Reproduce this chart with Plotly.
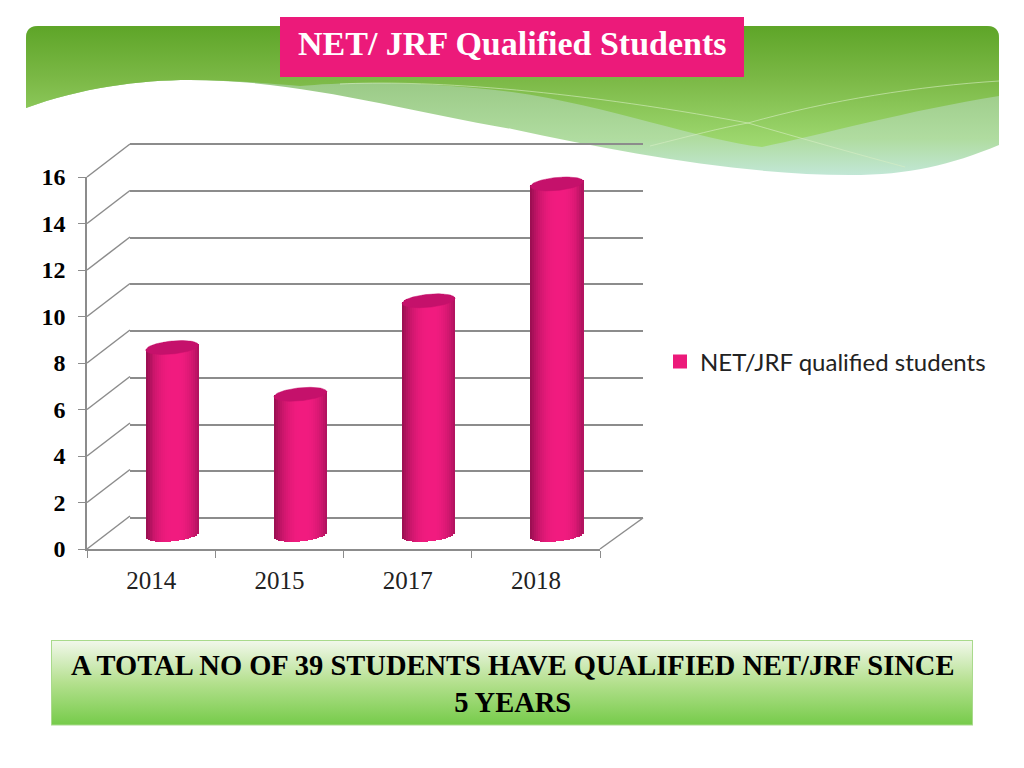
import base64
import math
import plotly.graph_objects as go

# chart data
categories = ["2014", "2015", "2017", "2018"]
values = [8, 6, 10, 15]
y_ticks = [0, 2, 4, 6, 8, 10, 12, 14, 16]
series_name = "NET/JRF qualified students"
title_text = "NET/ JRF Qualified Students"
note_lines = ["A TOTAL NO OF 39 STUDENTS HAVE QUALIFIED NET/JRF SINCE", "5 YEARS"]

W, H = 1024, 768
GRID = "#8c8c8c"
PINK = "#ec1a7a"
SERIF = "Liberation Serif"


def px_x(p):
    return p / W


def px_y(p):
    return 1 - p / H


# slide background with gradients, text stays as plotly text
svg = f"""<svg xmlns="http://www.w3.org/2000/svg" width="{W}" height="{H}" viewBox="0 0 {W} {H}">
<defs>
<linearGradient id="dark" gradientUnits="userSpaceOnUse" x1="0" y1="26" x2="0" y2="147">
<stop offset="0" stop-color="#5ea528"/><stop offset="0.45" stop-color="#7cb947"/><stop offset="1" stop-color="#a0da72"/>
</linearGradient>
<linearGradient id="light" gradientUnits="userSpaceOnUse" x1="0" y1="85" x2="0" y2="175">
<stop offset="0" stop-color="#9ccb88"/><stop offset="0.6" stop-color="#b0dca0"/><stop offset="1" stop-color="#c2e7d6"/>
</linearGradient>
<linearGradient id="box" x1="0" y1="0" x2="0" y2="1">
<stop offset="0" stop-color="#f2f8ec"/><stop offset="0.5" stop-color="#b4e08e"/><stop offset="1" stop-color="#76cb4a"/>
</linearGradient>
</defs>
<path fill="url(#light)" d="M26 108 C80 88 140 80 190 80 C300 80 400 110 512 129 C620 152 740 175 850 175 C910 175 950 165 999 145 V38 Q999 26 987 26 H38 Q26 26 26 38 Z"/>
<path fill="url(#dark)" d="M26 108 C80 88 140 80 190 80 C225 80 265 83 300 86 C340 82 420 80 512 92 C610 106 700 140 762 147 C820 135 910 110 999 96 V38 Q999 26 987 26 H38 Q26 26 26 38 Z"/>
<path fill="none" stroke="#d8efc4" stroke-opacity="0.6" d="M340 84 C420 80 560 88 748 123 C800 138 860 155 905 167"/>
<path fill="none" stroke="#d8efc4" stroke-opacity="0.6" d="M650 146 C690 136 720 128 748 123 C830 100 920 86 999 81"/>
<rect x="51.5" y="640.5" width="921" height="84.5" fill="url(#box)" stroke="#a9da8c"/>
</svg>"""
svg_uri = "data:image/svg+xml;base64," + base64.b64encode(svg.encode()).decode()

# cylinder geometry, in px then converted to axis units
unit_px = 23.37
wall_unit = (518 - 144) / 16
cat_px = 128.25
half_w = 26.5
ry = 6.5
tilt = 2.5
n_strips = 27


def edge(u, sign):
    # y offset of the tilted ellipse edge at u in -1..1, in axis units
    return (tilt * u + sign * ry * math.sqrt(max(0, 1 - u * u))) / unit_px


def shade(u):
    # dark edges, bright band just right of centre
    t = min(1, abs(u - 0.1) / 1.1)
    t = t ** 2.4
    left = (150, 14, 80) if u < 0.1 else (130, 12, 72)
    mid = (242, 28, 128)
    return "rgb(%d,%d,%d)" % tuple(mid[i] + (left[i] - mid[i]) * t for i in range(3))


x_pos = list(range(len(categories)))
fig = go.Figure()

# front axes, only for ticks and labels
fig.add_trace(go.Scatter(x=categories, y=[None] * 4, xaxis="x", yaxis="y", showlegend=False))
# back wall, only for gridlines
fig.add_trace(go.Scatter(x=x_pos, y=[None] * 4, xaxis="x2", yaxis="y2", showlegend=False))

for k in range(n_strips):
    u0 = -1 + 2 * k / n_strips
    u1 = -1 + 2 * (k + 1) / n_strips
    u = (u0 + u1) / 2
    bottom = edge(u, -1)
    top = edge(u, 1)
    fig.add_trace(go.Bar(
        x=x_pos,
        y=[v + top - bottom for v in values],
        base=[bottom] * len(values),
        width=(u1 - u0 + 0.01) * half_w / cat_px,
        offset=u0 * half_w / cat_px,
        marker=dict(color=shade(u), line=dict(width=0)),
        xaxis="x3", yaxis="y3", showlegend=False, hoverinfo="skip",
    ))

# top caps
steps = [i / 40 for i in range(41)]
for pos, v in zip(x_pos, values):
    us = [-1 + 2 * s for s in steps] + [1 - 2 * s for s in steps]
    signs = [1] * 41 + [-1] * 41
    fig.add_trace(go.Scatter(
        x=[pos + a * half_w / cat_px for a in us],
        y=[v + edge(a, b) for a, b in zip(us, signs)],
        mode="lines", fill="toself", fillcolor="#c5116b",
        line=dict(color="#c5116b", width=0.5),
        xaxis="x3", yaxis="y3", showlegend=False, hoverinfo="skip",
    ))

# legend entry
fig.add_trace(go.Bar(x=[None], y=[None], name=series_name,
                     marker=dict(color=PINK, line=dict(color=PINK, width=2)),
                     xaxis="x3", yaxis="y3"))

# side wall diagonals and right floor edge
shapes = []
for t in y_ticks:
    y0 = 549 - t * (549 - 177) / 16
    shapes.append(dict(type="line", xref="paper", yref="paper", layer="below",
                       x0=px_x(87), y0=px_y(y0), x1=px_x(130), y1=px_y(y0 - 33),
                       line=dict(color=GRID, width=1.5)))
shapes.append(dict(type="line", xref="paper", yref="paper", layer="below",
                   x0=px_x(600), y0=px_y(549), x1=px_x(643), y1=px_y(518),
                   line=dict(color=GRID, width=1.5)))
# title box
shapes.append(dict(type="rect", xref="paper", yref="paper", layer="above",
                   x0=px_x(280), y0=px_y(77), x1=px_x(744), y1=px_y(17),
                   fillcolor=PINK, line=dict(width=0)))

annotations = [
    dict(text="<b>" + title_text + "</b>", xref="paper", yref="paper", x=px_x(512), y=px_y(44),
         showarrow=False, font=dict(family=SERIF, size=34, color="white"),
         xanchor="center", yanchor="middle"),
    dict(text="<br>".join("<b>" + line + "</b>" for line in note_lines),
         xref="paper", yref="paper", x=px_x(512), y=px_y(684),
         showarrow=False, font=dict(family=SERIF, size=28.5, color="black"),
         xanchor="center", yanchor="middle", align="center"),
]

fig.update_layout(
    width=W, height=H, margin=dict(l=0, r=0, t=0, b=0, autoexpand=False),
    paper_bgcolor="white", plot_bgcolor="rgba(0,0,0,0)",
    barmode="overlay", bargap=0,
    images=[dict(source=svg_uri, xref="paper", yref="paper", x=0, y=1,
                 sizex=1, sizey=1, xanchor="left", yanchor="top",
                 sizing="stretch", layer="below")],
    shapes=shapes, annotations=annotations,
    showlegend=True,
    legend=dict(x=px_x(660), y=px_y(362), xanchor="left", yanchor="middle",
                bgcolor="rgba(0,0,0,0)",
                font=dict(family="Lato", size=24, color="#222222")),
    xaxis=dict(domain=[px_x(87), px_x(600)], type="category", range=[-0.5, 3.5],
               tickson="boundaries", ticks="outside", ticklen=7, tickcolor=GRID,
               showline=True, linecolor=GRID, linewidth=1.5, showgrid=False,
               ticklabelstandoff=8,
               tickfont=dict(family=SERIF, size=25, color="#222222"),
               anchor="y", fixedrange=True),
    yaxis=dict(domain=[px_y(549), px_y(177)], range=[0, 16], tickvals=y_ticks,
               ticks="outside", ticklen=7, tickcolor=GRID,
               showline=True, linecolor=GRID, linewidth=1.5, showgrid=False,
               zeroline=False, ticklabelstandoff=8,
               tickfont=dict(family=SERIF, size=24, color="black", weight="bold"),
               anchor="x", fixedrange=True),
    # shifted axes carrying the back wall gridlines
    xaxis2=dict(domain=[px_x(130), px_x(643)], range=[-0.5, 3.5], visible=False, anchor="y2"),
    yaxis2=dict(domain=[px_y(518 + wall_unit), px_y(144 - wall_unit)], range=[-1, 17],
                tickvals=y_ticks, showticklabels=False, ticks="", showgrid=True,
                gridcolor=GRID, gridwidth=1.5, zeroline=False, showline=False, anchor="x2"),
    # shifted axes carrying the cylinders
    xaxis3=dict(domain=[px_x(108), px_x(621)], range=[-0.5, 3.5], visible=False, anchor="y3"),
    yaxis3=dict(domain=[px_y(534.5 + unit_px), px_y(534.5 - 16 * unit_px)], range=[-1, 16],
                visible=False, anchor="x3"),
)

# page body has a default margin, the slide fills the window
fig.write_html("out.html", config=dict(displayModeBar=False),
               post_script="document.body.style.margin='0';")
